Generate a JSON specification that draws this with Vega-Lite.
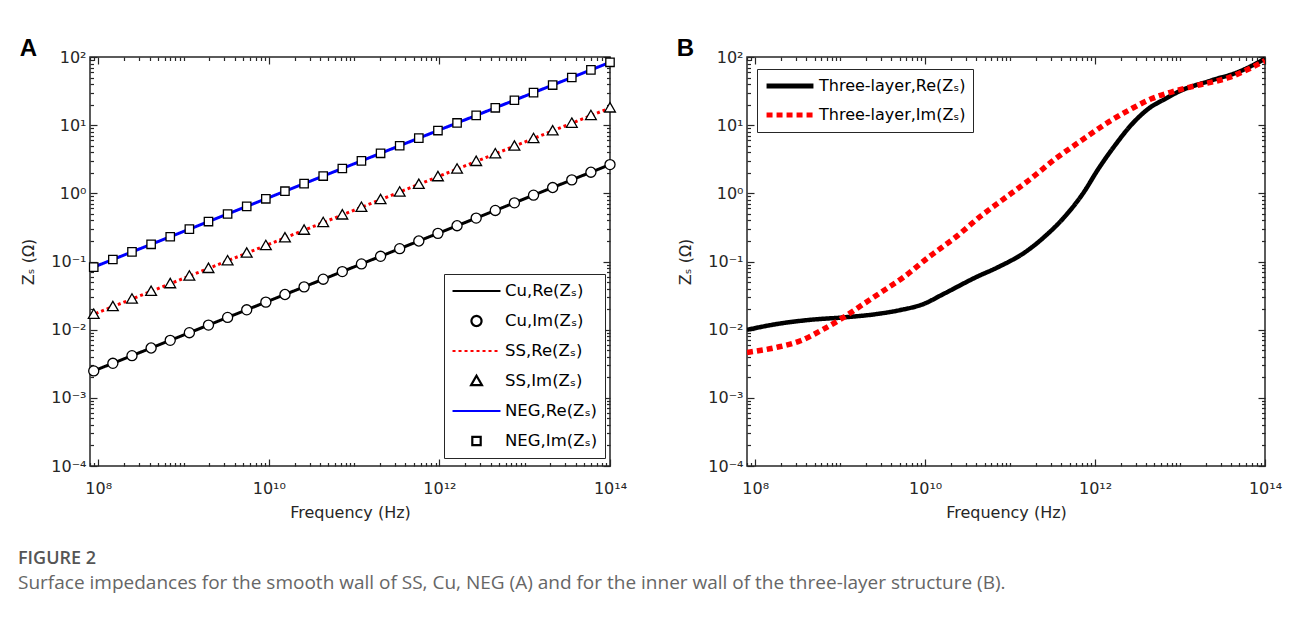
{
"$schema":"https://vega.github.io/schema/vega-lite/v6.json",
"background":"white",
"padding":{"left":18,"top":36,"right":5,"bottom":5},
"bounds":"flush",
"spacing":137,
"resolve":{"scale":{"color":"independent","shape":"independent","strokeDash":"independent"},"legend":{"color":"independent","shape":"independent","strokeDash":"independent"}},
"title":{"text":"FIGURE 2","subtitle":"Surface impedances for the smooth wall of SS, Cu, NEG (A) and for the inner wall of the three-layer structure (B).","orient":"bottom","anchor":"start","frame":"bounds","dx":-1,"font":"Open Sans","fontSize":18,"fontWeight":600,"color":"#555555","subtitleFont":"Open Sans","subtitleFontSize":19,"subtitleColor":"#666666","offset":29,"subtitlePadding":6},
"datasets":{
"a":[
{"s":"Cu,Re(Zₛ)","p":"Re","f":8e7,"z":0.00236},
{"s":"Cu,Re(Zₛ)","p":"Re","f":8.85e7,"z":0.002482},{"s":"Cu,Re(Zₛ)","p":"Re","f":1.483e8,"z":0.003213},{"s":"Cu,Re(Zₛ)","p":"Re","f":2.485e8,"z":0.004158},{"s":"Cu,Re(Zₛ)","p":"Re","f":4.165e8,"z":0.005383},{"s":"Cu,Re(Zₛ)","p":"Re","f":6.979e8,"z":0.00697},{"s":"Cu,Re(Zₛ)","p":"Re","f":1.17e9,"z":0.009023},{"s":"Cu,Re(Zₛ)","p":"Re","f":1.96e9,"z":0.01168},{"s":"Cu,Re(Zₛ)","p":"Re","f":3.284e9,"z":0.01512},{"s":"Cu,Re(Zₛ)","p":"Re","f":5.503e9,"z":0.01957},{"s":"Cu,Re(Zₛ)","p":"Re","f":9.221e9,"z":0.02534},{"s":"Cu,Re(Zₛ)","p":"Re","f":1.545e10,"z":0.0328},{"s":"Cu,Re(Zₛ)","p":"Re","f":2.59e10,"z":0.04245},{"s":"Cu,Re(Zₛ)","p":"Re","f":4.339e10,"z":0.05496},{"s":"Cu,Re(Zₛ)","p":"Re","f":7.271e10,"z":0.07115},{"s":"Cu,Re(Zₛ)","p":"Re","f":1.218e11,"z":0.0921},{"s":"Cu,Re(Zₛ)","p":"Re","f":2.042e11,"z":0.1192},{"s":"Cu,Re(Zₛ)","p":"Re","f":3.421e11,"z":0.1543},{"s":"Cu,Re(Zₛ)","p":"Re","f":5.733e11,"z":0.1998},{"s":"Cu,Re(Zₛ)","p":"Re","f":9.607e11,"z":0.2586},{"s":"Cu,Re(Zₛ)","p":"Re","f":1.61e12,"z":0.3348},{"s":"Cu,Re(Zₛ)","p":"Re","f":2.698e12,"z":0.4335},{"s":"Cu,Re(Zₛ)","p":"Re","f":4.52e12,"z":0.561},{"s":"Cu,Re(Zₛ)","p":"Re","f":7.575e12,"z":0.726},{"s":"Cu,Re(Zₛ)","p":"Re","f":1.269e13,"z":0.94},{"s":"Cu,Re(Zₛ)","p":"Re","f":2.127e13,"z":1.217},{"s":"Cu,Re(Zₛ)","p":"Re","f":3.565e13,"z":1.576},{"s":"Cu,Re(Zₛ)","p":"Re","f":5.973e13,"z":2.04},{"s":"Cu,Re(Zₛ)","p":"Re","f":1e14,"z":2.64},
{"s":"Cu,Im(Zₛ)","p":"Im","f":8.85e7,"z":0.002482},{"s":"Cu,Im(Zₛ)","p":"Im","f":1.483e8,"z":0.003213},{"s":"Cu,Im(Zₛ)","p":"Im","f":2.485e8,"z":0.004158},{"s":"Cu,Im(Zₛ)","p":"Im","f":4.165e8,"z":0.005383},{"s":"Cu,Im(Zₛ)","p":"Im","f":6.979e8,"z":0.00697},{"s":"Cu,Im(Zₛ)","p":"Im","f":1.17e9,"z":0.009023},{"s":"Cu,Im(Zₛ)","p":"Im","f":1.96e9,"z":0.01168},{"s":"Cu,Im(Zₛ)","p":"Im","f":3.284e9,"z":0.01512},{"s":"Cu,Im(Zₛ)","p":"Im","f":5.503e9,"z":0.01957},{"s":"Cu,Im(Zₛ)","p":"Im","f":9.221e9,"z":0.02534},{"s":"Cu,Im(Zₛ)","p":"Im","f":1.545e10,"z":0.0328},{"s":"Cu,Im(Zₛ)","p":"Im","f":2.59e10,"z":0.04245},{"s":"Cu,Im(Zₛ)","p":"Im","f":4.339e10,"z":0.05496},{"s":"Cu,Im(Zₛ)","p":"Im","f":7.271e10,"z":0.07115},{"s":"Cu,Im(Zₛ)","p":"Im","f":1.218e11,"z":0.0921},{"s":"Cu,Im(Zₛ)","p":"Im","f":2.042e11,"z":0.1192},{"s":"Cu,Im(Zₛ)","p":"Im","f":3.421e11,"z":0.1543},{"s":"Cu,Im(Zₛ)","p":"Im","f":5.733e11,"z":0.1998},{"s":"Cu,Im(Zₛ)","p":"Im","f":9.607e11,"z":0.2586},{"s":"Cu,Im(Zₛ)","p":"Im","f":1.61e12,"z":0.3348},{"s":"Cu,Im(Zₛ)","p":"Im","f":2.698e12,"z":0.4335},{"s":"Cu,Im(Zₛ)","p":"Im","f":4.52e12,"z":0.561},{"s":"Cu,Im(Zₛ)","p":"Im","f":7.575e12,"z":0.726},{"s":"Cu,Im(Zₛ)","p":"Im","f":1.269e13,"z":0.94},{"s":"Cu,Im(Zₛ)","p":"Im","f":2.127e13,"z":1.217},{"s":"Cu,Im(Zₛ)","p":"Im","f":3.565e13,"z":1.576},{"s":"Cu,Im(Zₛ)","p":"Im","f":5.973e13,"z":2.04},{"s":"Cu,Im(Zₛ)","p":"Im","f":1e14,"z":2.64},
{"s":"SS,Re(Zₛ)","p":"Re","f":8e7,"z":0.016},
{"s":"SS,Re(Zₛ)","p":"Re","f":8.85e7,"z":0.01683},{"s":"SS,Re(Zₛ)","p":"Re","f":1.483e8,"z":0.02178},{"s":"SS,Re(Zₛ)","p":"Re","f":2.485e8,"z":0.02819},{"s":"SS,Re(Zₛ)","p":"Re","f":4.165e8,"z":0.0365},{"s":"SS,Re(Zₛ)","p":"Re","f":6.979e8,"z":0.04726},{"s":"SS,Re(Zₛ)","p":"Re","f":1.17e9,"z":0.06118},{"s":"SS,Re(Zₛ)","p":"Re","f":1.96e9,"z":0.07919},{"s":"SS,Re(Zₛ)","p":"Re","f":3.284e9,"z":0.1025},{"s":"SS,Re(Zₛ)","p":"Re","f":5.503e9,"z":0.1327},{"s":"SS,Re(Zₛ)","p":"Re","f":9.221e9,"z":0.1718},{"s":"SS,Re(Zₛ)","p":"Re","f":1.545e10,"z":0.2224},{"s":"SS,Re(Zₛ)","p":"Re","f":2.59e10,"z":0.2879},{"s":"SS,Re(Zₛ)","p":"Re","f":4.339e10,"z":0.3727},{"s":"SS,Re(Zₛ)","p":"Re","f":7.271e10,"z":0.4824},{"s":"SS,Re(Zₛ)","p":"Re","f":1.218e11,"z":0.6245},{"s":"SS,Re(Zₛ)","p":"Re","f":2.042e11,"z":0.8084},{"s":"SS,Re(Zₛ)","p":"Re","f":3.421e11,"z":1.046},{"s":"SS,Re(Zₛ)","p":"Re","f":5.733e11,"z":1.355},{"s":"SS,Re(Zₛ)","p":"Re","f":9.607e11,"z":1.754},{"s":"SS,Re(Zₛ)","p":"Re","f":1.61e12,"z":2.27},{"s":"SS,Re(Zₛ)","p":"Re","f":2.698e12,"z":2.939},{"s":"SS,Re(Zₛ)","p":"Re","f":4.52e12,"z":3.804},{"s":"SS,Re(Zₛ)","p":"Re","f":7.575e12,"z":4.924},{"s":"SS,Re(Zₛ)","p":"Re","f":1.269e13,"z":6.374},{"s":"SS,Re(Zₛ)","p":"Re","f":2.127e13,"z":8.252},{"s":"SS,Re(Zₛ)","p":"Re","f":3.565e13,"z":10.68},{"s":"SS,Re(Zₛ)","p":"Re","f":5.973e13,"z":13.83},{"s":"SS,Re(Zₛ)","p":"Re","f":1e14,"z":17.9},
{"s":"SS,Im(Zₛ)","p":"Im","f":8.85e7,"z":0.01683},{"s":"SS,Im(Zₛ)","p":"Im","f":1.483e8,"z":0.02178},{"s":"SS,Im(Zₛ)","p":"Im","f":2.485e8,"z":0.02819},{"s":"SS,Im(Zₛ)","p":"Im","f":4.165e8,"z":0.0365},{"s":"SS,Im(Zₛ)","p":"Im","f":6.979e8,"z":0.04726},{"s":"SS,Im(Zₛ)","p":"Im","f":1.17e9,"z":0.06118},{"s":"SS,Im(Zₛ)","p":"Im","f":1.96e9,"z":0.07919},{"s":"SS,Im(Zₛ)","p":"Im","f":3.284e9,"z":0.1025},{"s":"SS,Im(Zₛ)","p":"Im","f":5.503e9,"z":0.1327},{"s":"SS,Im(Zₛ)","p":"Im","f":9.221e9,"z":0.1718},{"s":"SS,Im(Zₛ)","p":"Im","f":1.545e10,"z":0.2224},{"s":"SS,Im(Zₛ)","p":"Im","f":2.59e10,"z":0.2879},{"s":"SS,Im(Zₛ)","p":"Im","f":4.339e10,"z":0.3727},{"s":"SS,Im(Zₛ)","p":"Im","f":7.271e10,"z":0.4824},{"s":"SS,Im(Zₛ)","p":"Im","f":1.218e11,"z":0.6245},{"s":"SS,Im(Zₛ)","p":"Im","f":2.042e11,"z":0.8084},{"s":"SS,Im(Zₛ)","p":"Im","f":3.421e11,"z":1.046},{"s":"SS,Im(Zₛ)","p":"Im","f":5.733e11,"z":1.355},{"s":"SS,Im(Zₛ)","p":"Im","f":9.607e11,"z":1.754},{"s":"SS,Im(Zₛ)","p":"Im","f":1.61e12,"z":2.27},{"s":"SS,Im(Zₛ)","p":"Im","f":2.698e12,"z":2.939},{"s":"SS,Im(Zₛ)","p":"Im","f":4.52e12,"z":3.804},{"s":"SS,Im(Zₛ)","p":"Im","f":7.575e12,"z":4.924},{"s":"SS,Im(Zₛ)","p":"Im","f":1.269e13,"z":6.374},{"s":"SS,Im(Zₛ)","p":"Im","f":2.127e13,"z":8.252},{"s":"SS,Im(Zₛ)","p":"Im","f":3.565e13,"z":10.68},{"s":"SS,Im(Zₛ)","p":"Im","f":5.973e13,"z":13.83},{"s":"SS,Im(Zₛ)","p":"Im","f":1e14,"z":17.9},
{"s":"NEG,Re(Zₛ)","p":"Re","f":8e7,"z":0.0787},
{"s":"NEG,Re(Zₛ)","p":"Re","f":8.85e7,"z":0.0828},{"s":"NEG,Re(Zₛ)","p":"Re","f":1.483e8,"z":0.107},{"s":"NEG,Re(Zₛ)","p":"Re","f":2.485e8,"z":0.1383},{"s":"NEG,Re(Zₛ)","p":"Re","f":4.165e8,"z":0.1787},{"s":"NEG,Re(Zₛ)","p":"Re","f":6.979e8,"z":0.2308},{"s":"NEG,Re(Zₛ)","p":"Re","f":1.17e9,"z":0.2982},{"s":"NEG,Re(Zₛ)","p":"Re","f":1.96e9,"z":0.3853},{"s":"NEG,Re(Zₛ)","p":"Re","f":3.284e9,"z":0.4978},{"s":"NEG,Re(Zₛ)","p":"Re","f":5.503e9,"z":0.6432},{"s":"NEG,Re(Zₛ)","p":"Re","f":9.221e9,"z":0.831},{"s":"NEG,Re(Zₛ)","p":"Re","f":1.545e10,"z":1.074},{"s":"NEG,Re(Zₛ)","p":"Re","f":2.59e10,"z":1.387},{"s":"NEG,Re(Zₛ)","p":"Re","f":4.339e10,"z":1.792},{"s":"NEG,Re(Zₛ)","p":"Re","f":7.271e10,"z":2.315},{"s":"NEG,Re(Zₛ)","p":"Re","f":1.218e11,"z":2.991},{"s":"NEG,Re(Zₛ)","p":"Re","f":2.042e11,"z":3.865},{"s":"NEG,Re(Zₛ)","p":"Re","f":3.421e11,"z":4.993},{"s":"NEG,Re(Zₛ)","p":"Re","f":5.733e11,"z":6.451},{"s":"NEG,Re(Zₛ)","p":"Re","f":9.607e11,"z":8.334},{"s":"NEG,Re(Zₛ)","p":"Re","f":1.61e12,"z":10.77},{"s":"NEG,Re(Zₛ)","p":"Re","f":2.698e12,"z":13.91},{"s":"NEG,Re(Zₛ)","p":"Re","f":4.52e12,"z":17.97},{"s":"NEG,Re(Zₛ)","p":"Re","f":7.575e12,"z":23.22},{"s":"NEG,Re(Zₛ)","p":"Re","f":1.269e13,"z":30.0},{"s":"NEG,Re(Zₛ)","p":"Re","f":2.127e13,"z":38.76},{"s":"NEG,Re(Zₛ)","p":"Re","f":3.565e13,"z":50.08},{"s":"NEG,Re(Zₛ)","p":"Re","f":5.973e13,"z":64.71},{"s":"NEG,Re(Zₛ)","p":"Re","f":1e14,"z":83.6},
{"s":"NEG,Im(Zₛ)","p":"Im","f":8.85e7,"z":0.0828},{"s":"NEG,Im(Zₛ)","p":"Im","f":1.483e8,"z":0.107},{"s":"NEG,Im(Zₛ)","p":"Im","f":2.485e8,"z":0.1383},{"s":"NEG,Im(Zₛ)","p":"Im","f":4.165e8,"z":0.1787},{"s":"NEG,Im(Zₛ)","p":"Im","f":6.979e8,"z":0.2308},{"s":"NEG,Im(Zₛ)","p":"Im","f":1.17e9,"z":0.2982},{"s":"NEG,Im(Zₛ)","p":"Im","f":1.96e9,"z":0.3853},{"s":"NEG,Im(Zₛ)","p":"Im","f":3.284e9,"z":0.4978},{"s":"NEG,Im(Zₛ)","p":"Im","f":5.503e9,"z":0.6432},{"s":"NEG,Im(Zₛ)","p":"Im","f":9.221e9,"z":0.831},{"s":"NEG,Im(Zₛ)","p":"Im","f":1.545e10,"z":1.074},{"s":"NEG,Im(Zₛ)","p":"Im","f":2.59e10,"z":1.387},{"s":"NEG,Im(Zₛ)","p":"Im","f":4.339e10,"z":1.792},{"s":"NEG,Im(Zₛ)","p":"Im","f":7.271e10,"z":2.315},{"s":"NEG,Im(Zₛ)","p":"Im","f":1.218e11,"z":2.991},{"s":"NEG,Im(Zₛ)","p":"Im","f":2.042e11,"z":3.865},{"s":"NEG,Im(Zₛ)","p":"Im","f":3.421e11,"z":4.993},{"s":"NEG,Im(Zₛ)","p":"Im","f":5.733e11,"z":6.451},{"s":"NEG,Im(Zₛ)","p":"Im","f":9.607e11,"z":8.334},{"s":"NEG,Im(Zₛ)","p":"Im","f":1.61e12,"z":10.77},{"s":"NEG,Im(Zₛ)","p":"Im","f":2.698e12,"z":13.91},{"s":"NEG,Im(Zₛ)","p":"Im","f":4.52e12,"z":17.97},{"s":"NEG,Im(Zₛ)","p":"Im","f":7.575e12,"z":23.22},{"s":"NEG,Im(Zₛ)","p":"Im","f":1.269e13,"z":30.0},{"s":"NEG,Im(Zₛ)","p":"Im","f":2.127e13,"z":38.76},{"s":"NEG,Im(Zₛ)","p":"Im","f":3.565e13,"z":50.08},{"s":"NEG,Im(Zₛ)","p":"Im","f":5.973e13,"z":64.71},{"s":"NEG,Im(Zₛ)","p":"Im","f":1e14,"z":83.6}
],
"b":[
{"s":"Three-layer,Re(Zₛ)","f":8e7,"z":0.00995},{"s":"Three-layer,Re(Zₛ)","f":1.782e8,"z":0.01208},{"s":"Three-layer,Re(Zₛ)","f":4.477e8,"z":0.01396},{"s":"Three-layer,Re(Zₛ)","f":1.094e9,"z":0.01514},{"s":"Three-layer,Re(Zₛ)","f":2.673e9,"z":0.01694},{"s":"Three-layer,Re(Zₛ)","f":5.117e9,"z":0.01941},{"s":"Three-layer,Re(Zₛ)","f":9.55e9,"z":0.02377},{"s":"Three-layer,Re(Zₛ)","f":1.641e10,"z":0.03334},{"s":"Three-layer,Re(Zₛ)","f":4.009e10,"z":0.05916},{"s":"Three-layer,Re(Zₛ)","f":7.278e10,"z":0.08299},{"s":"Three-layer,Re(Zₛ)","f":1.514e11,"z":0.138},{"s":"Three-layer,Re(Zₛ)","f":2.6e11,"z":0.2371},{"s":"Three-layer,Re(Zₛ)","f":4.477e11,"z":0.4667},{"s":"Three-layer,Re(Zₛ)","f":7.278e11,"z":1.014},{"s":"Three-layer,Re(Zₛ)","f":1.094e12,"z":2.286},{"s":"Three-layer,Re(Zₛ)","f":1.734e12,"z":5.152},{"s":"Three-layer,Re(Zₛ)","f":2.673e12,"z":10.12},{"s":"Three-layer,Re(Zₛ)","f":4.236e12,"z":17.38},{"s":"Three-layer,Re(Zₛ)","f":6.714e12,"z":24.38},{"s":"Three-layer,Re(Zₛ)","f":9.55e12,"z":30.9},{"s":"Three-layer,Re(Zₛ)","f":2.333e13,"z":45.29},{"s":"Three-layer,Re(Zₛ)","f":4.853e13,"z":60.26},{"s":"Three-layer,Re(Zₛ)","f":1e14,"z":94.4},
{"s":"Three-layer,Im(Zₛ)","f":8e7,"z":0.004634},{"s":"Three-layer,Im(Zₛ)","f":1.782e8,"z":0.005495},{"s":"Three-layer,Im(Zₛ)","f":3.412e8,"z":0.006871},{"s":"Three-layer,Im(Zₛ)","f":6.368e8,"z":0.01019},{"s":"Three-layer,Im(Zₛ)","f":1.094e9,"z":0.01514},{"s":"Three-layer,Im(Zₛ)","f":1.879e9,"z":0.02377},{"s":"Three-layer,Im(Zₛ)","f":3.228e9,"z":0.03724},{"s":"Three-layer,Im(Zₛ)","f":5.559e9,"z":0.05861},{"s":"Three-layer,Im(Zₛ)","f":1.094e10,"z":0.1153},{"s":"Three-layer,Im(Zₛ)","f":2.275e10,"z":0.227},{"s":"Three-layer,Im(Zₛ)","f":4.592e10,"z":0.471},{"s":"Three-layer,Im(Zₛ)","f":7.907e10,"z":0.7816},{"s":"Three-layer,Im(Zₛ)","f":1.641e11,"z":1.538},{"s":"Three-layer,Im(Zₛ)","f":3.412e11,"z":3.206},{"s":"Three-layer,Im(Zₛ)","f":6.902e11,"z":5.957},{"s":"Three-layer,Im(Zₛ)","f":1.435e12,"z":11.09},{"s":"Three-layer,Im(Zₛ)","f":2.673e12,"z":17.38},{"s":"Three-layer,Im(Zₛ)","f":4.592e12,"z":24.38},{"s":"Three-layer,Im(Zₛ)","f":7.907e12,"z":30.62},{"s":"Three-layer,Im(Zₛ)","f":1.514e13,"z":37.84},{"s":"Three-layer,Im(Zₛ)","f":3.698e13,"z":49.66},{"s":"Three-layer,Im(Zₛ)","f":1e14,"z":88.3}
]
},
"hconcat":[
{
"title":{"text":"A","anchor":"start","frame":"bounds","dx":-1,"font":"Liberation Sans","fontSize":24,"fontWeight":"bold","color":"#000000","offset":-12},
"width":520,"height":409,
"data":{"name":"a"},
"resolve":{"axis":{"x":"independent","y":"independent"}},
"layer":[
{"transform":[{"filter":{"field":"p","equal":"Re"}}],
"mark":{"type":"line","clip":true,"strokeWidth":3},
"encoding":{
"x":{"field":"f","type":"quantitative","scale":{"type":"log","domain":[8e7,1e14],"nice":false},
"axis":{"orient":"bottom","values":[1e8,1e10,1e12,1e14],"labelExpr":"datum.value >= 1e13 ? '10¹⁴' : datum.value >= 1e11 ? '10¹²' : datum.value >= 1e9 ? '10¹⁰' : '10⁸'","ticks":false,"title":"Frequency (Hz)","labelPadding":14,"titlePadding":8}},
"y":{"field":"z","type":"quantitative","scale":{"type":"log","domain":[0.0001,100],"nice":false},
"axis":{"orient":"left","values":[0.0001,0.001,0.01,0.1,1,10,100],"labelExpr":"datum.value >= 50 ? '10²' : datum.value >= 5 ? '10¹' : datum.value >= 0.5 ? '10⁰' : datum.value >= 0.05 ? '10⁻¹' : datum.value >= 0.005 ? '10⁻²' : datum.value >= 0.0005 ? '10⁻³' : '10⁻⁴'","ticks":false,"title":"Zₛ (Ω)","labelPadding":4,"titlePadding":14}},
"color":{"field":"s","type":"nominal","scale":{"domain":["Cu,Re(Zₛ)","Cu,Im(Zₛ)","SS,Re(Zₛ)","SS,Im(Zₛ)","NEG,Re(Zₛ)","NEG,Im(Zₛ)"],"range":["#000000","#000000","#ff0000","#000000","#0000ff","#000000"]},
"legend":{"title":null,"orient":"none","legendX":354,"legendY":217,"clipHeight":20,"rowPadding":10,"labelOffset":3,"padding":7,"symbolSize":2300,"symbolStrokeWidth":2.2,"strokeColor":"#262626","fillColor":"#ffffff","labelFontSize":16.5}},
"strokeDash":{"field":"s","type":"nominal","scale":{"domain":["Cu,Re(Zₛ)","Cu,Im(Zₛ)","SS,Re(Zₛ)","SS,Im(Zₛ)","NEG,Re(Zₛ)","NEG,Im(Zₛ)"],"range":[[1,0],[1,0],[3,3],[1,0],[1,0],[1,0]]},"legend":{"title":null}}
}},
{"transform":[{"filter":{"field":"p","equal":"Im"}}],
"mark":{"type":"point","fill":"#ffffff","stroke":"#000000","strokeWidth":1.3,"opacity":1,"size":2300,"clip":false},
"encoding":{
"x":{"field":"f","type":"quantitative","axis":{"orient":"bottom","values":[8e7,9e7,1e8,2e8,3e8,4e8,5e8,6e8,7e8,8e8,9e8,1e9,2e9,3e9,4e9,5e9,6e9,7e9,8e9,9e9,1e10,2e10,3e10,4e10,5e10,6e10,7e10,8e10,9e10,1e11,2e11,3e11,4e11,5e11,6e11,7e11,8e11,9e11,1e12,2e12,3e12,4e12,5e12,6e12,7e12,8e12,9e12,1e13,2e13,3e13,4e13,5e13,6e13,7e13,8e13,9e13,1e14],"labels":false,"title":null,"ticks":true,"tickSize":{"condition":{"test":"datum.value == 1e8 || datum.value == 1e10 || datum.value == 1e12 || datum.value == 1e14","value":-7},"value":-3.5}}},
"y":{"field":"z","type":"quantitative","axis":{"orient":"left","values":[0.0001,0.0002,0.0003,0.0004,0.0005,0.0006,0.0007,0.0008,0.0009,0.001,0.002,0.003,0.004,0.005,0.006,0.007,0.008,0.009,0.01,0.02,0.03,0.04,0.05,0.06,0.07,0.08,0.09,0.1,0.2,0.3,0.4,0.5,0.6,0.7,0.8,0.9,1,2,3,4,5,6,7,8,9,10,20,30,40,50,60,70,80,90,100],"labels":false,"title":null,"ticks":true,"tickSize":{"condition":{"test":"datum.value == 0.0001 || datum.value == 0.001 || datum.value == 0.01 || datum.value == 0.1 || datum.value == 1 || datum.value == 10 || datum.value == 100","value":-7},"value":-3.5}}},
"shape":{"field":"s","type":"nominal","scale":{"domain":["Cu,Re(Zₛ)","Cu,Im(Zₛ)","SS,Re(Zₛ)","SS,Im(Zₛ)","NEG,Re(Zₛ)","NEG,Im(Zₛ)"],"range":["M-1,0L1,0","M-0.21,0A0.21,0.21,0,1,0,0.21,0A0.21,0.21,0,1,0,-0.21,0Z","M-1,0L1,0","M0,-0.22L0.225,0.17L-0.225,0.17Z","M-1,0L1,0","M-0.175,-0.175L0.175,-0.175L0.175,0.175L-0.175,0.175Z"]},"legend":{"title":null}}
}},
{"mark":{"type":"point","opacity":0},
"encoding":{
"x":{"field":"f","type":"quantitative","axis":{"orient":"top","values":[8e7,9e7,1e8,2e8,3e8,4e8,5e8,6e8,7e8,8e8,9e8,1e9,2e9,3e9,4e9,5e9,6e9,7e9,8e9,9e9,1e10,2e10,3e10,4e10,5e10,6e10,7e10,8e10,9e10,1e11,2e11,3e11,4e11,5e11,6e11,7e11,8e11,9e11,1e12,2e12,3e12,4e12,5e12,6e12,7e12,8e12,9e12,1e13,2e13,3e13,4e13,5e13,6e13,7e13,8e13,9e13,1e14],"labels":false,"title":null,"ticks":true,"tickSize":{"condition":{"test":"datum.value == 1e8 || datum.value == 1e10 || datum.value == 1e12 || datum.value == 1e14","value":-7},"value":-3.5}}},
"y":{"field":"z","type":"quantitative","axis":{"orient":"right","values":[0.0001,0.0002,0.0003,0.0004,0.0005,0.0006,0.0007,0.0008,0.0009,0.001,0.002,0.003,0.004,0.005,0.006,0.007,0.008,0.009,0.01,0.02,0.03,0.04,0.05,0.06,0.07,0.08,0.09,0.1,0.2,0.3,0.4,0.5,0.6,0.7,0.8,0.9,1,2,3,4,5,6,7,8,9,10,20,30,40,50,60,70,80,90,100],"labels":false,"title":null,"ticks":true,"tickSize":{"condition":{"test":"datum.value == 0.0001 || datum.value == 0.001 || datum.value == 0.01 || datum.value == 0.1 || datum.value == 1 || datum.value == 10 || datum.value == 100","value":-7},"value":-3.5}}}
}}
]
},
{
"title":{"text":"B","anchor":"start","frame":"bounds","dx":-1,"font":"Liberation Sans","fontSize":24,"fontWeight":"bold","color":"#000000","offset":-12},
"width":518,"height":409,
"data":{"name":"b"},
"resolve":{"axis":{"x":"independent","y":"independent"}},
"layer":[
{"transform":[{"filter":{"field":"s","equal":"Three-layer,Re(Zₛ)"}}],
"mark":{"type":"line","clip":true,"interpolate":"monotone","strokeWidth":4.5},
"encoding":{
"x":{"field":"f","type":"quantitative","scale":{"type":"log","domain":[8e7,1e14],"nice":false},
"axis":{"orient":"bottom","values":[1e8,1e10,1e12,1e14],"labelExpr":"datum.value >= 1e13 ? '10¹⁴' : datum.value >= 1e11 ? '10¹²' : datum.value >= 1e9 ? '10¹⁰' : '10⁸'","ticks":false,"title":"Frequency (Hz)","labelPadding":14,"titlePadding":8}},
"y":{"field":"z","type":"quantitative","scale":{"type":"log","domain":[0.0001,100],"nice":false},
"axis":{"orient":"left","values":[0.0001,0.001,0.01,0.1,1,10,100],"labelExpr":"datum.value >= 50 ? '10²' : datum.value >= 5 ? '10¹' : datum.value >= 0.5 ? '10⁰' : datum.value >= 0.05 ? '10⁻¹' : datum.value >= 0.005 ? '10⁻²' : datum.value >= 0.0005 ? '10⁻³' : '10⁻⁴'","ticks":false,"title":"Zₛ (Ω)","labelPadding":4,"titlePadding":14}},
"color":{"field":"s","type":"nominal","scale":{"domain":["Three-layer,Re(Zₛ)","Three-layer,Im(Zₛ)"],"range":["#000000","#ff0000"]},
"legend":{"title":null,"orient":"none","legendX":10,"legendY":12,"clipHeight":20,"rowPadding":9,"labelOffset":3,"padding":7,"symbolSize":2200,"symbolType":"stroke","symbolStrokeWidth":5,"strokeColor":"#262626","fillColor":"#ffffff","labelFontSize":16}},
"strokeDash":{"field":"s","type":"nominal","scale":{"domain":["Three-layer,Re(Zₛ)","Three-layer,Im(Zₛ)"],"range":[[1,0],[6,4]]},"legend":{"title":null}}
}},
{"transform":[{"filter":{"field":"s","equal":"Three-layer,Im(Zₛ)"}}],
"mark":{"type":"line","clip":true,"interpolate":"monotone","strokeWidth":5.5},
"encoding":{
"x":{"field":"f","type":"quantitative","axis":{"orient":"bottom","values":[8e7,9e7,1e8,2e8,3e8,4e8,5e8,6e8,7e8,8e8,9e8,1e9,2e9,3e9,4e9,5e9,6e9,7e9,8e9,9e9,1e10,2e10,3e10,4e10,5e10,6e10,7e10,8e10,9e10,1e11,2e11,3e11,4e11,5e11,6e11,7e11,8e11,9e11,1e12,2e12,3e12,4e12,5e12,6e12,7e12,8e12,9e12,1e13,2e13,3e13,4e13,5e13,6e13,7e13,8e13,9e13,1e14],"labels":false,"title":null,"ticks":true,"tickSize":{"condition":{"test":"datum.value == 1e8 || datum.value == 1e10 || datum.value == 1e12 || datum.value == 1e14","value":-7},"value":-3.5}}},
"y":{"field":"z","type":"quantitative","axis":{"orient":"left","values":[0.0001,0.0002,0.0003,0.0004,0.0005,0.0006,0.0007,0.0008,0.0009,0.001,0.002,0.003,0.004,0.005,0.006,0.007,0.008,0.009,0.01,0.02,0.03,0.04,0.05,0.06,0.07,0.08,0.09,0.1,0.2,0.3,0.4,0.5,0.6,0.7,0.8,0.9,1,2,3,4,5,6,7,8,9,10,20,30,40,50,60,70,80,90,100],"labels":false,"title":null,"ticks":true,"tickSize":{"condition":{"test":"datum.value == 0.0001 || datum.value == 0.001 || datum.value == 0.01 || datum.value == 0.1 || datum.value == 1 || datum.value == 10 || datum.value == 100","value":-7},"value":-3.5}}},
"color":{"field":"s","type":"nominal"},
"strokeDash":{"field":"s","type":"nominal"}
}},
{"mark":{"type":"point","opacity":0},
"encoding":{
"x":{"field":"f","type":"quantitative","axis":{"orient":"top","values":[8e7,9e7,1e8,2e8,3e8,4e8,5e8,6e8,7e8,8e8,9e8,1e9,2e9,3e9,4e9,5e9,6e9,7e9,8e9,9e9,1e10,2e10,3e10,4e10,5e10,6e10,7e10,8e10,9e10,1e11,2e11,3e11,4e11,5e11,6e11,7e11,8e11,9e11,1e12,2e12,3e12,4e12,5e12,6e12,7e12,8e12,9e12,1e13,2e13,3e13,4e13,5e13,6e13,7e13,8e13,9e13,1e14],"labels":false,"title":null,"ticks":true,"tickSize":{"condition":{"test":"datum.value == 1e8 || datum.value == 1e10 || datum.value == 1e12 || datum.value == 1e14","value":-7},"value":-3.5}}},
"y":{"field":"z","type":"quantitative","axis":{"orient":"right","values":[0.0001,0.0002,0.0003,0.0004,0.0005,0.0006,0.0007,0.0008,0.0009,0.001,0.002,0.003,0.004,0.005,0.006,0.007,0.008,0.009,0.01,0.02,0.03,0.04,0.05,0.06,0.07,0.08,0.09,0.1,0.2,0.3,0.4,0.5,0.6,0.7,0.8,0.9,1,2,3,4,5,6,7,8,9,10,20,30,40,50,60,70,80,90,100],"labels":false,"title":null,"ticks":true,"tickSize":{"condition":{"test":"datum.value == 0.0001 || datum.value == 0.001 || datum.value == 0.01 || datum.value == 0.1 || datum.value == 1 || datum.value == 10 || datum.value == 100","value":-7},"value":-3.5}}}
}}
]
}
],
"config":{
"view":{"stroke":"#262626","strokeWidth":1.5},
"axis":{"labelFont":"DejaVu Sans","titleFont":"DejaVu Sans","labelFontSize":16,"titleFontSize":16,"titleFontWeight":"normal","labelColor":"#262626","titleColor":"#262626","grid":false,"domain":false,"tickColor":"#262626","tickWidth":1.2,"labelOverlap":false,"labelFlush":false,"labelBound":false,"minExtent":0},
"legend":{"labelFont":"DejaVu Sans","labelFontSize":16,"labelColor":"#000000","labelLimit":400}
}
}
